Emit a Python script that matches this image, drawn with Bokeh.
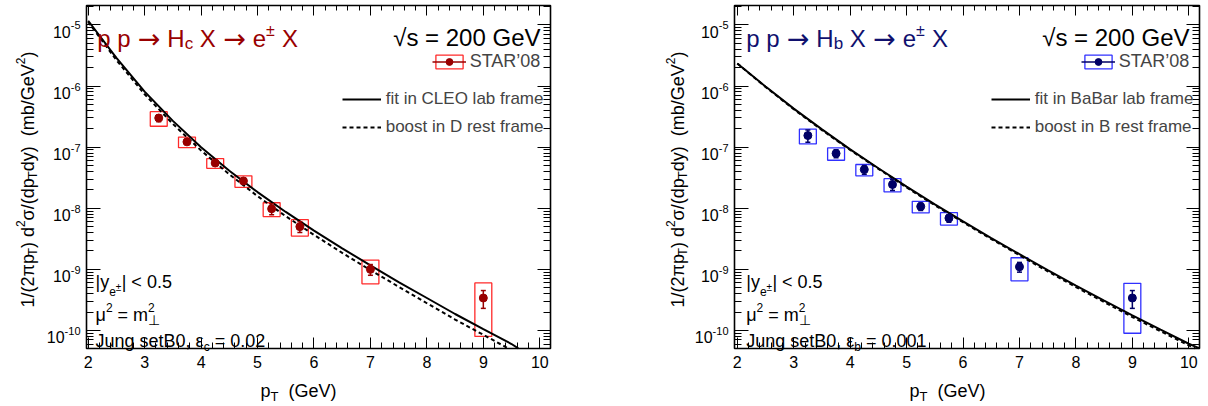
import math
from bokeh.plotting import figure
from bokeh.models import (ColumnDataSource, Label, Legend, LegendItem, LinearAxis, LogAxis,
                          FixedTicker, CustomJSTickFormatter, Range1d, BoxAnnotation)
from bokeh.layouts import row
from bokeh.embed import file_html
from bokeh.resources import INLINE

FONT = "Liberation Sans"
SYM = "DejaVu Sans"

# ---------------- data ----------------
pt_data = [3.25, 3.75, 4.25, 4.75, 5.25, 5.75, 7.0, 9.0]

# charm -> e (left panel), STAR'08
c_val = [3.0e-7, 1.22e-7, 5.5e-8, 2.8e-8, 9.8e-9, 5.0e-9, 1.0e-9, 3.4e-10]
c_stat = [0.4e-7, 0.12e-7, 0.5e-8, 0.3e-8, 2.0e-9, 1.0e-9, 0.2e-9, 1.1e-10]
c_sys = [0.8e-7, 0.24e-7, 1.0e-8, 0.6e-8, 2.5e-9, 1.5e-9, 0.42e-9, 2.6e-10]

# bottom -> e (right panel), STAR'08
b_val = [1.55e-7, 7.9e-8, 4.3e-8, 2.45e-8, 1.07e-8, 6.9e-9, 1.1e-9, 3.4e-10]
b_stat = [0.35e-7, 1.2e-8, 0.7e-8, 0.5e-8, 1.5e-9, 1.0e-9, 0.2e-9, 1.1e-10]
b_sys = [0.42e-7, 1.8e-8, 0.9e-8, 0.6e-8, 2.3e-9, 1.6e-9, 0.45e-9, 2.5e-10]

# model curves (each ends where it leaves the plotted frame)
c_fit_pt = [2.0, 2.5, 3.0, 3.5, 4.0, 4.5, 5.0, 5.5, 6.0, 6.5, 7.0, 7.5, 8.0, 8.5, 9.0, 9.5, 9.62]
c_fit = [1.17e-5, 2.88e-6, 8.1e-7, 2.69e-7, 1.0e-7, 4.12e-8, 1.84e-8, 8.7e-9, 4.3e-9, 2.21e-9,
         1.16e-9, 6.2e-10, 3.4e-10, 1.86e-10, 1.05e-10, 6.0e-11, 5.1e-11]
c_boost_pt = [2.0, 2.5, 3.0, 3.5, 4.0, 4.5, 5.0, 5.5, 6.0, 6.5, 7.0, 7.5, 8.0, 8.5, 9.0, 9.44]
c_boost = [1.12e-5, 2.66e-6, 7.33e-7, 2.4e-7, 8.8e-8, 3.59e-8, 1.58e-8, 7.4e-9, 3.67e-9, 1.86e-9,
           9.7e-10, 5.2e-10, 2.79e-10, 1.51e-10, 8.5e-11, 5.1e-11]
b_fit_pt = [2.0, 2.5, 3.0, 3.5, 4.0, 4.5, 5.0, 5.5, 6.0, 6.5, 7.0, 7.5, 8.0, 8.5, 9.0, 9.5, 10.0, 10.19]
b_fit = [2.34e-6, 9.8e-7, 4.27e-7, 1.95e-7, 9.2e-8, 4.52e-8, 2.26e-8, 1.16e-8, 6.1e-9, 3.25e-9,
         1.77e-9, 9.7e-10, 5.4e-10, 3.07e-10, 1.77e-10, 1.03e-10, 6.06e-11, 5.1e-11]
b_boost_pt = [2.0, 2.5, 3.0, 3.5, 4.0, 4.5, 5.0, 5.5, 6.0, 6.5, 7.0, 7.5, 8.0, 8.5, 9.0, 9.5, 10.0, 10.11]
b_boost = [2.34e-6, 9.66e-7, 4.17e-7, 1.9e-7, 9.0e-8, 4.42e-8, 2.19e-8, 1.12e-8, 5.9e-9, 3.13e-9,
           1.7e-9, 9.3e-10, 5.13e-10, 2.92e-10, 1.66e-10, 9.7e-11, 5.7e-11, 5.1e-11]

x_ticks = [2, 3, 4, 5, 6, 7, 8, 9, 10]
y_decades = [-10, -9, -8, -7, -6, -5]

BOX_HALF = 0.15
W_FIG, H_FIG = 604, 406

# approximate Helvetica/Arial advance widths (em) for laying out rich text
W = {' ': .278, '!': .278, '(': .333, ')': .333, ',': .278, '-': .333, '.': .278, '/': .278,
     ':': .278, '<': .584, '=': .584, '>': .584, '|': .26, '’': .222,
     'A': .667, 'B': .667, 'C': .722, 'D': .722, 'E': .667, 'F': .611, 'G': .778, 'H': .722,
     'I': .278, 'J': .5, 'K': .667, 'L': .556, 'M': .833, 'N': .722, 'O': .778, 'P': .667,
     'Q': .778, 'R': .722, 'S': .667, 'T': .611, 'U': .722, 'V': .667, 'W': .944, 'X': .667,
     'Y': .667, 'Z': .611, 'a': .556, 'b': .556, 'c': .5, 'd': .556, 'e': .556, 'f': .278,
     'g': .556, 'h': .556, 'i': .222, 'j': .222, 'k': .5, 'l': .222, 'm': .833, 'n': .556,
     'o': .556, 'p': .556, 'q': .556, 'r': .333, 's': .5, 't': .278, 'u': .556, 'v': .5,
     'w': .722, 'x': .5, 'y': .5, 'z': .5, 'π': .58, 'σ': .57, 'μ': .577, 'ε': .45,
     '→': .838, '±': .584, '⊥': .838, '√': .549}
for d in "0123456789":
    W[d] = .556


def tw(s, size):
    return sum(W.get(ch, 0.6) for ch in s) * size


def rich(p, ax, ay, segs, x0, y0, color="black", angle=0.0):
    """Lay out text segments (text, size, rise[, advance[, font]]) from a pixel offset."""
    pos = 0.0
    for seg in segs:
        text, size, rise = seg[0], seg[1], seg[2]
        adv = seg[3] if len(seg) > 3 else True
        font = seg[4] if len(seg) > 4 else FONT
        lead = len(text) - len(text.lstrip(" "))
        body = text.strip(" ")
        start = pos + tw(" " * lead, size)
        if body:
            if angle == 0:
                xo, yo = x0 + start, y0 + rise
            else:
                xo, yo = x0 - rise, y0 + start
            p.add_layout(Label(x=ax, y=ay, x_offset=xo, y_offset=yo, text=body, angle=angle,
                               text_font=font, text_font_size=f"{size}px", text_color=color,
                               text_align="left", text_baseline="alphabetic"))
        if adv:
            pos += tw(text, size)


def panel(fl, fr, xlo, hq, title_color, mk_color, box_color, val, stat, sys,
          fit_pt, fit, boost_pt, boost, fit_label, boost_label, eps_segs, dx):
    # plotted frame (ROOT pad frame) in pixels inside this figure, and its data limits
    ft, fb = 5, 348
    xhi, ylo, yhi = 10.19, 5.07e-11, 2.08e-5
    xs = (xhi - xlo) / (fr - fl)
    ls = (math.log10(yhi) - math.log10(ylo)) / (fb - ft)
    x_range = Range1d(xlo - fl * xs, xhi + (W_FIG - fr) * xs)
    y_range = Range1d(10 ** (math.log10(ylo) - (H_FIG - fb) * ls), 10 ** (math.log10(yhi) + ft * ls))

    p = figure(width=W_FIG, height=H_FIG, x_range=x_range, y_range=y_range,
               y_axis_type="log", x_axis_location=None, y_axis_location=None,
               output_backend="svg", toolbar_location=None,
               min_border_left=0, min_border_right=0, min_border_top=0, min_border_bottom=0)
    p.background_fill_color = "white"
    p.border_fill_color = "white"
    p.outline_line_color = None
    p.grid.visible = False

    x_minor = [round(2.0 + 0.2 * i, 1) for i in range(41)]
    y_major = [10.0 ** e for e in y_decades]
    y_minor = [m * 10.0 ** e for e in range(-11, -4) for m in range(2, 10)
               if ylo <= m * 10.0 ** e <= yhi]
    xt = FixedTicker(ticks=x_ticks, minor_ticks=x_minor)
    yt = FixedTicker(ticks=y_major, minor_ticks=y_minor)
    empty = CustomJSTickFormatter(code="return ''")

    common = dict(major_tick_out=0, minor_tick_out=0, axis_line_color=None,
                  major_tick_line_color="black", minor_tick_line_color="black")
    bottom = LinearAxis(ticker=xt, fixed_location=ylo, major_tick_in=11, minor_tick_in=6,
                        major_label_text_font=FONT, major_label_text_font_size="16px",
                        major_label_text_color="black", major_label_standoff=7, **common)
    p.add_layout(bottom, "below")
    top = LinearAxis(ticker=xt, fixed_location=yhi, formatter=empty, major_tick_in=10,
                     minor_tick_in=5, major_label_text_font_size="0px", major_label_standoff=0,
                     **common)
    p.add_layout(top, "above")
    left = LogAxis(ticker=yt, fixed_location=xlo, formatter=empty, major_tick_in=14,
                   minor_tick_in=7, major_label_text_font_size="0px", major_label_standoff=0,
                   **common)
    p.add_layout(left, "left")
    right = LogAxis(ticker=yt, fixed_location=xhi, formatter=empty, major_tick_in=13,
                    minor_tick_in=7, major_label_text_font_size="0px", major_label_standoff=0,
                    **common)
    p.add_layout(right, "right")

    src = ColumnDataSource(dict(
        x=pt_data, y=val,
        lo=[v - s for v, s in zip(val, stat)], hi=[v + s for v, s in zip(val, stat)],
        bb=[v - s for v, s in zip(val, sys)], bt=[v + s for v, s in zip(val, sys)],
        l=[x - BOX_HALF for x in pt_data], r=[x + BOX_HALF for x in pt_data]))

    box = p.quad(left="l", right="r", bottom="bb", top="bt", source=src, fill_color=None,
                 line_color=box_color, line_width=1.3)
    fit_r = p.line(fit_pt, fit, line_color="black", line_width=2)
    boost_r = p.line(boost_pt, boost, line_color="black", line_width=2, line_dash="4 3")
    err = p.segment(x0="x", y0="lo", x1="x", y1="hi", source=src, line_color=mk_color,
                    line_width=1.5)
    p.scatter("x", "lo", source=src, marker="dash", size=5, line_color=mk_color, line_width=1.5)
    p.scatter("x", "hi", source=src, marker="dash", size=5, line_color=mk_color, line_width=1.5)
    dots = p.scatter("x", "y", source=src, size=8, fill_color=mk_color, line_color=mk_color)

    # pad frame
    p.add_layout(BoxAnnotation(left=xlo, right=xhi, bottom=ylo, top=yhi, fill_alpha=0,
                               line_color="black", line_alpha=1, line_width=1.6))

    legA = Legend(items=[LegendItem(label="STAR’08", renderers=[box, err, dots])],
                  location=(345.7 + fl + dx, 276.3 + H_FIG - fb), glyph_width=34,
                  glyph_height=17, label_height=17, label_standoff=4, padding=0, margin=0,
                  spacing=0, border_line_color=None, background_fill_alpha=0,
                  label_text_font=FONT, label_text_font_size="18px")
    legB = Legend(items=[LegendItem(label=fit_label, renderers=[fit_r]),
                         LegendItem(label=boost_label, renderers=[boost_r])],
                  location=(255.7 + fl + dx, 211.5 + H_FIG - fb), glyph_width=39,
                  glyph_height=20, label_height=20, label_standoff=5, padding=0, margin=0,
                  spacing=8, border_line_color=None, background_fill_alpha=0,
                  label_text_font=FONT, label_text_font_size="17px")
    p.add_layout(legA)
    p.add_layout(legB)

    title_segs = [("p p", 24, 0), (" →", 27, 0, True, SYM), (" H", 24, 0), (hq, 17, -5),
                  (" X", 24, 0), (" →", 27, 0, True, SYM), (" e", 24, 0), ("±", 16, 8),
                  (" X", 24, 0)]
    rich(p, xlo, yhi, title_segs, 10.7 + dx, -32.5, color=title_color)
    p.add_layout(Label(x=xhi, y=yhi, x_offset=-10, y_offset=-32, text="√s = 200 GeV",
                       text_font=FONT, text_font_size="24px", text_color="black",
                       text_align="right", text_baseline="alphabetic"))

    # y tick labels 10^n
    for e in y_decades:
        sup = str(e)
        x0 = -6 - tw(sup, 11) - tw("10", 16)
        rich(p, xlo, 10.0 ** e, [("10", 16, -7), (sup, 11, -0.5)], x0, 0)

    # axis titles
    rich(p, xlo, ylo, [("p", 18, 0), ("T", 13, -6), ("  (GeV)", 18, 0)], 174 + dx, -42)
    rich(p, xlo, ylo, [("1/(2πp", 18, 0), ("T", 13, -5), (") d", 18, 0), ("2", 12, 7),
                       ("σ/(dp", 18, 0), ("T", 13, -5), ("dy)", 18, 0), ("  ", 18, 0),
                       ("(mb/GeV", 18, 0), ("2", 12, 7), (")", 18, 0)],
         -59 + dx * 2, 41, angle=math.pi / 2)

    # bottom-left annotations
    tx = 9 + dx * 2.7
    rich(p, xlo, ylo, [("|y", 18, 0), ("e", 12, -9), ("±", 10, -5.5), ("| < 0.5", 18, 0)], tx, 66.3)
    rich(p, xlo, ylo, [("μ", 18, 0), ("2", 12, 7), (" = m", 18, 0), ("2", 12, 7, False),
                       ("⊥", 14, -5)], tx, 34)
    rich(p, xlo, ylo, eps_segs, tx, 8)
    return p


p1 = panel(86, 550, 1.97, "c", "#990000", "#990000", "#ff2a2a",
           c_val, c_stat, c_sys, c_fit_pt, c_fit, c_boost_pt, c_boost,
           "fit in CLEO lab frame", "boost in D rest frame",
           [("Jung setB0, ε", 18, 0), ("c", 12, -6.5), (" = 0.02", 18, 0)], 0)
p2 = panel(130, 595, 1.95, "b", "#10106e", "#000066", "#3030ff",
           b_val, b_stat, b_sys, b_fit_pt, b_fit, b_boost_pt, b_boost,
           "fit in BaBar lab frame", "boost in B rest frame",
           [("Jung setB0, ε", 18, 0), ("b", 12, -6.5), (" = 0.001", 18, 0)], 1)

layout = row(p1, p2)
open("out.html", "w").write(file_html(layout, INLINE))
